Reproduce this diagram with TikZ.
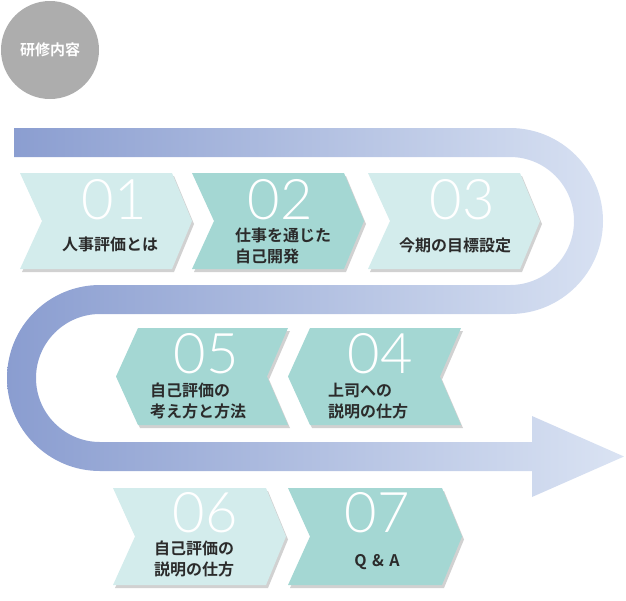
\documentclass[tikz,border=0pt]{standalone}
\usepackage{fontspec}
\setmainfont{Noto Sans CJK JP}
\newfontfamily\jpb{Noto Sans CJK JP Bold}
\newfontfamily\numfont{Lato Light}
\definecolor{lightc}{HTML}{D3ECEC}
\definecolor{darkc}{HTML}{A4D7D3}
\definecolor{txt}{HTML}{2B2B2B}
\definecolor{bandL}{HTML}{8A9DD0}
\definecolor{bandR}{HTML}{DAE3F3}
\tikzset{
  num/.style={font=\numfont\fontsize{56}{56}\selectfont, text=white, inner sep=0pt},
  lbl/.style={font=\jpb\fontsize{16}{21}\selectfont, text=txt, inner sep=0pt, align=left},
  shad/.style={fill=black, opacity=0.18},
}
\newcommand{\chevR}[5]{%
  \fill[shad,shift={(2,-3)}] (#1,-#3) -- (#2,-#3) -- ({#2+20},{-(#3+#4)/2}) -- (#2,-#4) -- (#1,-#4) -- ({#1+22},{-(#3+#4)/2}) -- cycle;
  \fill[#5] (#1,-#3) -- (#2,-#3) -- ({#2+20},{-(#3+#4)/2}) -- (#2,-#4) -- (#1,-#4) -- ({#1+22},{-(#3+#4)/2}) -- cycle;}
\newcommand{\chevL}[5]{%
  \fill[shad,shift={(2,-3)}] (#1,{-(#3+#4)/2}) -- ({#1+22},-#3) -- (#2,-#3) -- ({#2-21},{-(#3+#4)/2}) -- (#2,-#4) -- ({#1+22},-#4) -- cycle;
  \fill[#5] (#1,{-(#3+#4)/2}) -- ({#1+22},-#3) -- (#2,-#3) -- ({#2-21},{-(#3+#4)/2}) -- (#2,-#4) -- ({#1+22},-#4) -- cycle;}
\begin{document}
\begin{tikzpicture}[x=1pt,y=1pt]
\useasboundingbox (0,0) rectangle (626,-600);
\fill[black!32] (50,-50) circle (49);
\node[font=\jpb\fontsize{15}{15}\selectfont, text=white] (title) at (50,-50) {研修内容};
\shade[left color=bandL, right color=bandR]
 (14,-128) -- (510,-128) arc[start angle=90,end angle=-90,radius=93]
 -- (100,-314) arc[start angle=90,end angle=270,radius=64]
 -- (532,-442) -- (532,-416) -- (624,-456.5) -- (532,-497) -- (532,-471)
 -- (100,-471) arc[start angle=270,end angle=90,radius=93]
 -- (510,-285) arc[start angle=-90,end angle=90,radius=64]
 -- (14,-157) -- cycle;
\chevR{20}{172}{173}{269}{lightc}
\chevR{192}{344}{173}{269}{darkc}
\chevR{368}{520}{173}{269}{lightc}
\chevL{116}{288}{328}{425}{darkc}
\chevL{288}{461}{328}{425}{darkc}
\chevR{113}{266}{488}{585}{lightc}
\chevR{288}{442}{488}{585}{darkc}
\node[num] (n1) at (114,-200) {01};
\node[num] (n2) at (280,-200) {02};
\node[num] (n3) at (462,-200) {03};
\node[num] (n5) at (206,-354) {05};
\node[num] (n4) at (380,-354) {04};
\node[num] (n6) at (205,-513) {06};
\node[num] (n7) at (377,-513) {07};
\node[lbl] (t1) at (110,-244) {人事評価とは};
\node[lbl,anchor=west] (t2) at (235,-246) {仕事を通じた\\自己開発};
\node[lbl] (t3) at (455,-245) {今期の目標設定};
\node[lbl,anchor=west] (t5) at (150,-401) {自己評価の\\考え方と方法};
\node[lbl,anchor=west] (t4) at (328,-401) {上司への\\説明の仕方};
\node[lbl,anchor=west] (t6) at (154,-559) {自己評価の\\説明の仕方};
\node[lbl] (t7) at (377,-562) {Q\,\,\&\,\,A};
\end{tikzpicture}
\end{document}
